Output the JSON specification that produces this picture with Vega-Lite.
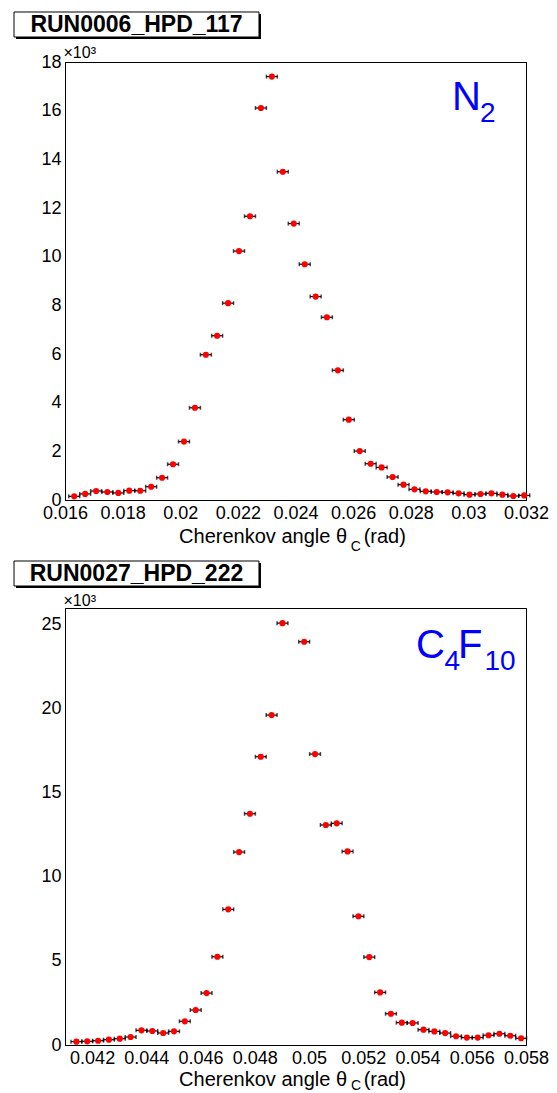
{
  "$schema": "https://vega.github.io/schema/vega-lite/v6.json",
  "padding": {"left": 13, "top": 10, "right": 4, "bottom": 0},
  "config": {
    "view": {"stroke": "black", "strokeWidth": 1},
    "axis": {"grid": false, "domainColor": "black", "domainWidth": 1, "tickColor": "black", "tickWidth": 1, "tickSize": 0,
      "labelFont": "Liberation Sans", "labelFontSize": 18, "labelColor": "black", "labelPadding": 4,
      "labelOverlap": false, "labelFlush": false, "labelBound": false,
      "titleFont": "Liberation Sans", "titleColor": "black", "titleFontWeight": "normal"},
    "text": {"font": "Liberation Sans"}
  },
  "datasets": {
    "n2": [
      {"x": 0.01632, "ex": 0.00019, "n": 150}, {"x": 0.0167, "ex": 0.00019, "n": 250}, {"x": 0.01708, "ex": 0.00019, "n": 370},
      {"x": 0.01747, "ex": 0.00019, "n": 330}, {"x": 0.01785, "ex": 0.00019, "n": 290}, {"x": 0.01823, "ex": 0.00019, "n": 385},
      {"x": 0.01861, "ex": 0.00019, "n": 380}, {"x": 0.01899, "ex": 0.00019, "n": 545}, {"x": 0.01937, "ex": 0.00019, "n": 915},
      {"x": 0.01975, "ex": 0.00019, "n": 1470}, {"x": 0.02013, "ex": 0.00019, "n": 2400}, {"x": 0.02051, "ex": 0.00019, "n": 3790},
      {"x": 0.02089, "ex": 0.00019, "n": 5970}, {"x": 0.02128, "ex": 0.00019, "n": 6750}, {"x": 0.02166, "ex": 0.00019, "n": 8090},
      {"x": 0.02204, "ex": 0.00019, "n": 10230}, {"x": 0.02242, "ex": 0.00019, "n": 11660}, {"x": 0.0228, "ex": 0.00019, "n": 16110},
      {"x": 0.02318, "ex": 0.00019, "n": 17400}, {"x": 0.02356, "ex": 0.00019, "n": 13490}, {"x": 0.02394, "ex": 0.00019, "n": 11360},
      {"x": 0.02432, "ex": 0.00019, "n": 9690}, {"x": 0.0247, "ex": 0.00019, "n": 8360}, {"x": 0.02509, "ex": 0.00019, "n": 7510},
      {"x": 0.02547, "ex": 0.00019, "n": 5330}, {"x": 0.02585, "ex": 0.00019, "n": 3300}, {"x": 0.02623, "ex": 0.00019, "n": 2010},
      {"x": 0.02661, "ex": 0.00019, "n": 1490}, {"x": 0.02699, "ex": 0.00019, "n": 1340}, {"x": 0.02737, "ex": 0.00019, "n": 945},
      {"x": 0.02775, "ex": 0.00019, "n": 630}, {"x": 0.02813, "ex": 0.00019, "n": 440}, {"x": 0.02852, "ex": 0.00019, "n": 356},
      {"x": 0.0289, "ex": 0.00019, "n": 330}, {"x": 0.02928, "ex": 0.00019, "n": 315}, {"x": 0.02966, "ex": 0.00019, "n": 275},
      {"x": 0.03004, "ex": 0.00019, "n": 220}, {"x": 0.03042, "ex": 0.00019, "n": 247}, {"x": 0.0308, "ex": 0.00019, "n": 275},
      {"x": 0.03118, "ex": 0.00019, "n": 220}, {"x": 0.03156, "ex": 0.00019, "n": 165}, {"x": 0.03194, "ex": 0.00019, "n": 190}
    ],
    "c4f10": [
      {"x": 0.04142, "ex": 0.0002, "n": 200}, {"x": 0.04182, "ex": 0.0002, "n": 220}, {"x": 0.04222, "ex": 0.0002, "n": 255},
      {"x": 0.04262, "ex": 0.0002, "n": 315}, {"x": 0.04302, "ex": 0.0002, "n": 375}, {"x": 0.04342, "ex": 0.0002, "n": 475},
      {"x": 0.04382, "ex": 0.0002, "n": 875}, {"x": 0.04422, "ex": 0.0002, "n": 835}, {"x": 0.04462, "ex": 0.0002, "n": 715},
      {"x": 0.04502, "ex": 0.0002, "n": 815}, {"x": 0.04542, "ex": 0.0002, "n": 1410}, {"x": 0.04582, "ex": 0.0002, "n": 2080},
      {"x": 0.04622, "ex": 0.0002, "n": 3090}, {"x": 0.04662, "ex": 0.0002, "n": 5250}, {"x": 0.04702, "ex": 0.0002, "n": 8070},
      {"x": 0.04742, "ex": 0.0002, "n": 11480}, {"x": 0.04782, "ex": 0.0002, "n": 13760}, {"x": 0.04822, "ex": 0.0002, "n": 17150},
      {"x": 0.04862, "ex": 0.0002, "n": 19630}, {"x": 0.04902, "ex": 0.0002, "n": 25100}, {"x": 0.04982, "ex": 0.0002, "n": 23990},
      {"x": 0.05022, "ex": 0.0002, "n": 17310}, {"x": 0.05062, "ex": 0.0002, "n": 13090}, {"x": 0.05102, "ex": 0.0002, "n": 13190},
      {"x": 0.05142, "ex": 0.0002, "n": 11520}, {"x": 0.05182, "ex": 0.0002, "n": 7660}, {"x": 0.05222, "ex": 0.0002, "n": 5230},
      {"x": 0.05262, "ex": 0.0002, "n": 3130}, {"x": 0.05302, "ex": 0.0002, "n": 1860}, {"x": 0.05342, "ex": 0.0002, "n": 1330},
      {"x": 0.05382, "ex": 0.0002, "n": 1310}, {"x": 0.05422, "ex": 0.0002, "n": 910}, {"x": 0.05462, "ex": 0.0002, "n": 810},
      {"x": 0.05502, "ex": 0.0002, "n": 710}, {"x": 0.05542, "ex": 0.0002, "n": 520}, {"x": 0.05582, "ex": 0.0002, "n": 440},
      {"x": 0.05622, "ex": 0.0002, "n": 440}, {"x": 0.05662, "ex": 0.0002, "n": 580}, {"x": 0.05702, "ex": 0.0002, "n": 670},
      {"x": 0.05742, "ex": 0.0002, "n": 550}, {"x": 0.05782, "ex": 0.0002, "n": 400}
    ]
  },
  "spacing": 5,
  "vconcat": [
    {
      "width": 461, "height": 438,
      "data": {"name": "n2"},
      "layer": [
        {
          "mark": {"type": "errorbar", "color": "black", "thickness": 1.2, "ticks": {"size": 4, "thickness": 1.5}},
          "encoding": {
            "x": {"field": "x", "type": "quantitative", "scale": {"domain": [0.016, 0.032], "nice": false, "zero": false},
              "axis": {"orient": "bottom",
                "values": [0.016,0.01625,0.0165,0.01675,0.017,0.01725,0.0175,0.01775,0.018,0.01825,0.0185,0.01875,0.019,0.01925,0.0195,0.01975,0.02,0.02025,0.0205,0.02075,0.021,0.02125,0.0215,0.02175,0.022,0.02225,0.0225,0.02275,0.023,0.02325,0.0235,0.02375,0.024,0.02425,0.0245,0.02475,0.025,0.02525,0.0255,0.02575,0.026,0.02625,0.0265,0.02675,0.027,0.02725,0.0275,0.02775,0.028,0.02825,0.0285,0.02875,0.029,0.02925,0.0295,0.02975,0.03,0.03025,0.0305,0.03075,0.031,0.03125,0.0315,0.03175,0.032],
                "labelExpr": "abs(datum.value/0.002-round(datum.value/0.002))<0.001 ? format(datum.value,'~g') : ''",
                "title": "Cherenkov angle θ\u00a0\u00a0\u00a0(rad)", "titleFontSize": 20, "titleX": 227, "titleY": 42, "titleAlign": "center", "titleBaseline": "alphabetic",
                "encode": {"ticks": {"update": {"y2": {"signal": "abs(datum.value/0.002-round(datum.value/0.002))<0.001 ? -13 : (abs(datum.value/0.001-round(datum.value/0.001))<0.001 ? -9 : -5)"}}}}
              }},
            "xError": {"field": "ex"},
            "y": {"field": "n", "type": "quantitative", "scale": {"domain": [0, 18000], "nice": false},
              "axis": {"orient": "left",
                "values": [0,250,500,750,1000,1250,1500,1750,2000,2250,2500,2750,3000,3250,3500,3750,4000,4250,4500,4750,5000,5250,5500,5750,6000,6250,6500,6750,7000,7250,7500,7750,8000,8250,8500,8750,9000,9250,9500,9750,10000,10250,10500,10750,11000,11250,11500,11750,12000,12250,12500,12750,13000,13250,13500,13750,14000,14250,14500,14750,15000,15250,15500,15750,16000,16250,16500,16750,17000,17250,17500,17750,18000],
                "labelExpr": "abs(datum.value/2000-round(datum.value/2000))<0.001 ? format(datum.value/1000,'d') : ''",
                "title": "×10³", "titleFontSize": 16, "titleAngle": 0, "titleX": -2, "titleY": -5, "titleAlign": "left", "titleBaseline": "alphabetic",
                "encode": {"ticks": {"update": {"x2": {"signal": "abs(datum.value/2000-round(datum.value/2000))<0.001 ? 14 : 7"}}}}
              }}
          }
        },
        {
          "mark": {"type": "point", "filled": true, "color": "#ff0000", "size": 38, "opacity": 1},
          "encoding": {
            "x": {"field": "x", "type": "quantitative",
              "axis": {"orient": "top", "labels": false, "title": null,
                "values": [0.016,0.01625,0.0165,0.01675,0.017,0.01725,0.0175,0.01775,0.018,0.01825,0.0185,0.01875,0.019,0.01925,0.0195,0.01975,0.02,0.02025,0.0205,0.02075,0.021,0.02125,0.0215,0.02175,0.022,0.02225,0.0225,0.02275,0.023,0.02325,0.0235,0.02375,0.024,0.02425,0.0245,0.02475,0.025,0.02525,0.0255,0.02575,0.026,0.02625,0.0265,0.02675,0.027,0.02725,0.0275,0.02775,0.028,0.02825,0.0285,0.02875,0.029,0.02925,0.0295,0.02975,0.03,0.03025,0.0305,0.03075,0.031,0.03125,0.0315,0.03175,0.032],
                "encode": {"ticks": {"update": {"y2": {"signal": "abs(datum.value/0.002-round(datum.value/0.002))<0.001 ? 13 : (abs(datum.value/0.001-round(datum.value/0.001))<0.001 ? 9 : 5)"}}}}
              }},
            "y": {"field": "n", "type": "quantitative",
              "axis": {"orient": "right", "labels": false, "title": null,
                "values": [0,250,500,750,1000,1250,1500,1750,2000,2250,2500,2750,3000,3250,3500,3750,4000,4250,4500,4750,5000,5250,5500,5750,6000,6250,6500,6750,7000,7250,7500,7750,8000,8250,8500,8750,9000,9250,9500,9750,10000,10250,10500,10750,11000,11250,11500,11750,12000,12250,12500,12750,13000,13250,13500,13750,14000,14250,14500,14750,15000,15250,15500,15750,16000,16250,16500,16750,17000,17250,17500,17750,18000],
                "encode": {"ticks": {"update": {"x2": {"signal": "abs(datum.value/2000-round(datum.value/2000))<0.001 ? -14 : -7"}}}}
              }}
          }
        },
        {
          "data": {"values": [{}]},
          "mark": {"type": "text", "text": "N", "fontSize": 40, "color": "#0000ff", "align": "left", "baseline": "alphabetic"},
          "encoding": {
            "x": {"datum": 0.02943, "type": "quantitative", "axis": null},
            "y": {"datum": 16027, "type": "quantitative", "axis": null}
          }
        },
        {
          "data": {"values": [{}]},
          "mark": {"type": "text", "text": "2", "fontSize": 28, "color": "#0000ff", "align": "left", "baseline": "alphabetic"},
          "encoding": {
            "x": {"datum": 0.0304, "type": "quantitative", "axis": null},
            "y": {"datum": 15534, "type": "quantitative", "axis": null}
          }
        },
        {
          "data": {"values": [{}]},
          "mark": {"type": "text", "text": "C", "fontSize": 14, "color": "black", "align": "left", "baseline": "alphabetic"},
          "encoding": {
            "x": {"datum": 0.02592, "type": "quantitative", "axis": null},
            "y": {"datum": -2096, "type": "quantitative", "axis": null}
          }
        },
        {
          "data": {"values": [{}]},
          "mark": {"type": "rect", "color": "black", "opacity": 1},
          "encoding": {
            "x": {"datum": 0.014299, "type": "quantitative", "axis": null},
            "x2": {"datum": 0.022802},
            "y": {"datum": 19973, "type": "quantitative", "axis": null},
            "y2": {"datum": 18945}
          }
        },
        {
          "data": {"values": [{}]},
          "mark": {"type": "rect", "fill": "white", "stroke": "black", "strokeWidth": 1, "opacity": 1},
          "encoding": {
            "x": {"datum": 0.01423, "type": "quantitative", "axis": null},
            "x2": {"datum": 0.022733},
            "y": {"datum": 20055, "type": "quantitative", "axis": null},
            "y2": {"datum": 19027}
          }
        },
        {
          "data": {"values": [{"run": "RUN0006_HPD_117"}]},
          "mark": {"type": "text", "fontSize": 23, "fontWeight": "bold", "align": "center", "baseline": "middle", "color": "black"},
          "encoding": {
            "text": {"field": "run"},
            "x": {"datum": 0.018482, "type": "quantitative", "axis": null},
            "y": {"datum": 19541, "type": "quantitative", "axis": null}
          }
        }
      ]
    },
    {
      "width": 461, "height": 437,
      "data": {"name": "c4f10"},
      "layer": [
        {
          "mark": {"type": "errorbar", "color": "black", "thickness": 1.2, "ticks": {"size": 4, "thickness": 1.5}},
          "encoding": {
            "x": {"field": "x", "type": "quantitative", "scale": {"domain": [0.041, 0.058], "nice": false, "zero": false},
              "axis": {"orient": "bottom",
                "values": [0.041,0.04125,0.0415,0.04175,0.042,0.04225,0.0425,0.04275,0.043,0.04325,0.0435,0.04375,0.044,0.04425,0.0445,0.04475,0.045,0.04525,0.0455,0.04575,0.046,0.04625,0.0465,0.04675,0.047,0.04725,0.0475,0.04775,0.048,0.04825,0.0485,0.04875,0.049,0.04925,0.0495,0.04975,0.05,0.05025,0.0505,0.05075,0.051,0.05125,0.0515,0.05175,0.052,0.05225,0.0525,0.05275,0.053,0.05325,0.0535,0.05375,0.054,0.05425,0.0545,0.05475,0.055,0.05525,0.0555,0.05575,0.056,0.05625,0.0565,0.05675,0.057,0.05725,0.0575,0.05775,0.058],
                "labelExpr": "abs(datum.value/0.002-round(datum.value/0.002))<0.001 ? format(datum.value,'~g') : ''",
                "title": "Cherenkov angle θ\u00a0\u00a0\u00a0(rad)", "titleFontSize": 20, "titleX": 227, "titleY": 40, "titleAlign": "center", "titleBaseline": "alphabetic",
                "encode": {"ticks": {"update": {"y2": {"signal": "abs(datum.value/0.002-round(datum.value/0.002))<0.001 ? -13 : (abs(datum.value/0.001-round(datum.value/0.001))<0.001 ? -9 : -5)"}}}}
              }},
            "xError": {"field": "ex"},
            "y": {"field": "n", "type": "quantitative", "scale": {"domain": [0, 26000], "nice": false},
              "axis": {"orient": "left",
                "values": [0,500,1000,1500,2000,2500,3000,3500,4000,4500,5000,5500,6000,6500,7000,7500,8000,8500,9000,9500,10000,10500,11000,11500,12000,12500,13000,13500,14000,14500,15000,15500,16000,16500,17000,17500,18000,18500,19000,19500,20000,20500,21000,21500,22000,22500,23000,23500,24000,24500,25000,25500,26000],
                "labelExpr": "abs(datum.value/5000-round(datum.value/5000))<0.001 ? format(datum.value/1000,'d') : ''",
                "title": "×10³", "titleFontSize": 16, "titleAngle": 0, "titleX": -2, "titleY": -3, "titleAlign": "left", "titleBaseline": "alphabetic",
                "encode": {"ticks": {"update": {"x2": {"signal": "abs(datum.value/5000-round(datum.value/5000))<0.001 ? 14 : 7"}}}}
              }}
          }
        },
        {
          "mark": {"type": "point", "filled": true, "color": "#ff0000", "size": 38, "opacity": 1},
          "encoding": {
            "x": {"field": "x", "type": "quantitative",
              "axis": {"orient": "top", "labels": false, "title": null,
                "values": [0.041,0.04125,0.0415,0.04175,0.042,0.04225,0.0425,0.04275,0.043,0.04325,0.0435,0.04375,0.044,0.04425,0.0445,0.04475,0.045,0.04525,0.0455,0.04575,0.046,0.04625,0.0465,0.04675,0.047,0.04725,0.0475,0.04775,0.048,0.04825,0.0485,0.04875,0.049,0.04925,0.0495,0.04975,0.05,0.05025,0.0505,0.05075,0.051,0.05125,0.0515,0.05175,0.052,0.05225,0.0525,0.05275,0.053,0.05325,0.0535,0.05375,0.054,0.05425,0.0545,0.05475,0.055,0.05525,0.0555,0.05575,0.056,0.05625,0.0565,0.05675,0.057,0.05725,0.0575,0.05775,0.058],
                "encode": {"ticks": {"update": {"y2": {"signal": "abs(datum.value/0.002-round(datum.value/0.002))<0.001 ? 13 : (abs(datum.value/0.001-round(datum.value/0.001))<0.001 ? 9 : 5)"}}}}
              }},
            "y": {"field": "n", "type": "quantitative",
              "axis": {"orient": "right", "labels": false, "title": null,
                "values": [0,500,1000,1500,2000,2500,3000,3500,4000,4500,5000,5500,6000,6500,7000,7500,8000,8500,9000,9500,10000,10500,11000,11500,12000,12500,13000,13500,14000,14500,15000,15500,16000,16500,17000,17500,18000,18500,19000,19500,20000,20500,21000,21500,22000,22500,23000,23500,24000,24500,25000,25500,26000],
                "encode": {"ticks": {"update": {"x2": {"signal": "abs(datum.value/5000-round(datum.value/5000))<0.001 ? -14 : -7"}}}}
              }}
          }
        },
        {
          "data": {"values": [{}]},
          "mark": {"type": "text", "text": "C", "fontSize": 40, "color": "#0000ff", "align": "left", "baseline": "alphabetic"},
          "encoding": {
            "x": {"datum": 0.05394, "type": "quantitative", "axis": null},
            "y": {"datum": 23022, "type": "quantitative", "axis": null}
          }
        },
        {
          "data": {"values": [{}]},
          "mark": {"type": "text", "text": "4", "fontSize": 28, "color": "#0000ff", "align": "left", "baseline": "alphabetic"},
          "encoding": {
            "x": {"datum": 0.05499, "type": "quantitative", "axis": null},
            "y": {"datum": 22308, "type": "quantitative", "axis": null}
          }
        },
        {
          "data": {"values": [{}]},
          "mark": {"type": "text", "text": "F", "fontSize": 40, "color": "#0000ff", "align": "left", "baseline": "alphabetic"},
          "encoding": {
            "x": {"datum": 0.05549, "type": "quantitative", "axis": null},
            "y": {"datum": 23022, "type": "quantitative", "axis": null}
          }
        },
        {
          "data": {"values": [{}]},
          "mark": {"type": "text", "text": "10", "fontSize": 28, "color": "#0000ff", "align": "left", "baseline": "alphabetic"},
          "encoding": {
            "x": {"datum": 0.05647, "type": "quantitative", "axis": null},
            "y": {"datum": 22308, "type": "quantitative", "axis": null}
          }
        },
        {
          "data": {"values": [{}]},
          "mark": {"type": "text", "text": "C", "fontSize": 14, "color": "black", "align": "left", "baseline": "alphabetic"},
          "encoding": {
            "x": {"datum": 0.05155, "type": "quantitative", "axis": null},
            "y": {"datum": -2677, "type": "quantitative", "axis": null}
          }
        },
        {
          "data": {"values": [{}]},
          "mark": {"type": "rect", "color": "black", "opacity": 1},
          "encoding": {
            "x": {"datum": 0.039194, "type": "quantitative", "axis": null},
            "x2": {"datum": 0.048227},
            "y": {"datum": 28677, "type": "quantitative", "axis": null},
            "y2": {"datum": 27190}
          }
        },
        {
          "data": {"values": [{}]},
          "mark": {"type": "rect", "fill": "white", "stroke": "black", "strokeWidth": 1, "opacity": 1},
          "encoding": {
            "x": {"datum": 0.03912, "type": "quantitative", "axis": null},
            "x2": {"datum": 0.048153},
            "y": {"datum": 28796, "type": "quantitative", "axis": null},
            "y2": {"datum": 27309}
          }
        },
        {
          "data": {"values": [{"run": "RUN0027_HPD_222"}]},
          "mark": {"type": "text", "fontSize": 23, "fontWeight": "bold", "align": "center", "baseline": "middle", "color": "black"},
          "encoding": {
            "text": {"field": "run"},
            "x": {"datum": 0.043636, "type": "quantitative", "axis": null},
            "y": {"datum": 28052, "type": "quantitative", "axis": null}
          }
        }
      ]
    }
  ]
}
